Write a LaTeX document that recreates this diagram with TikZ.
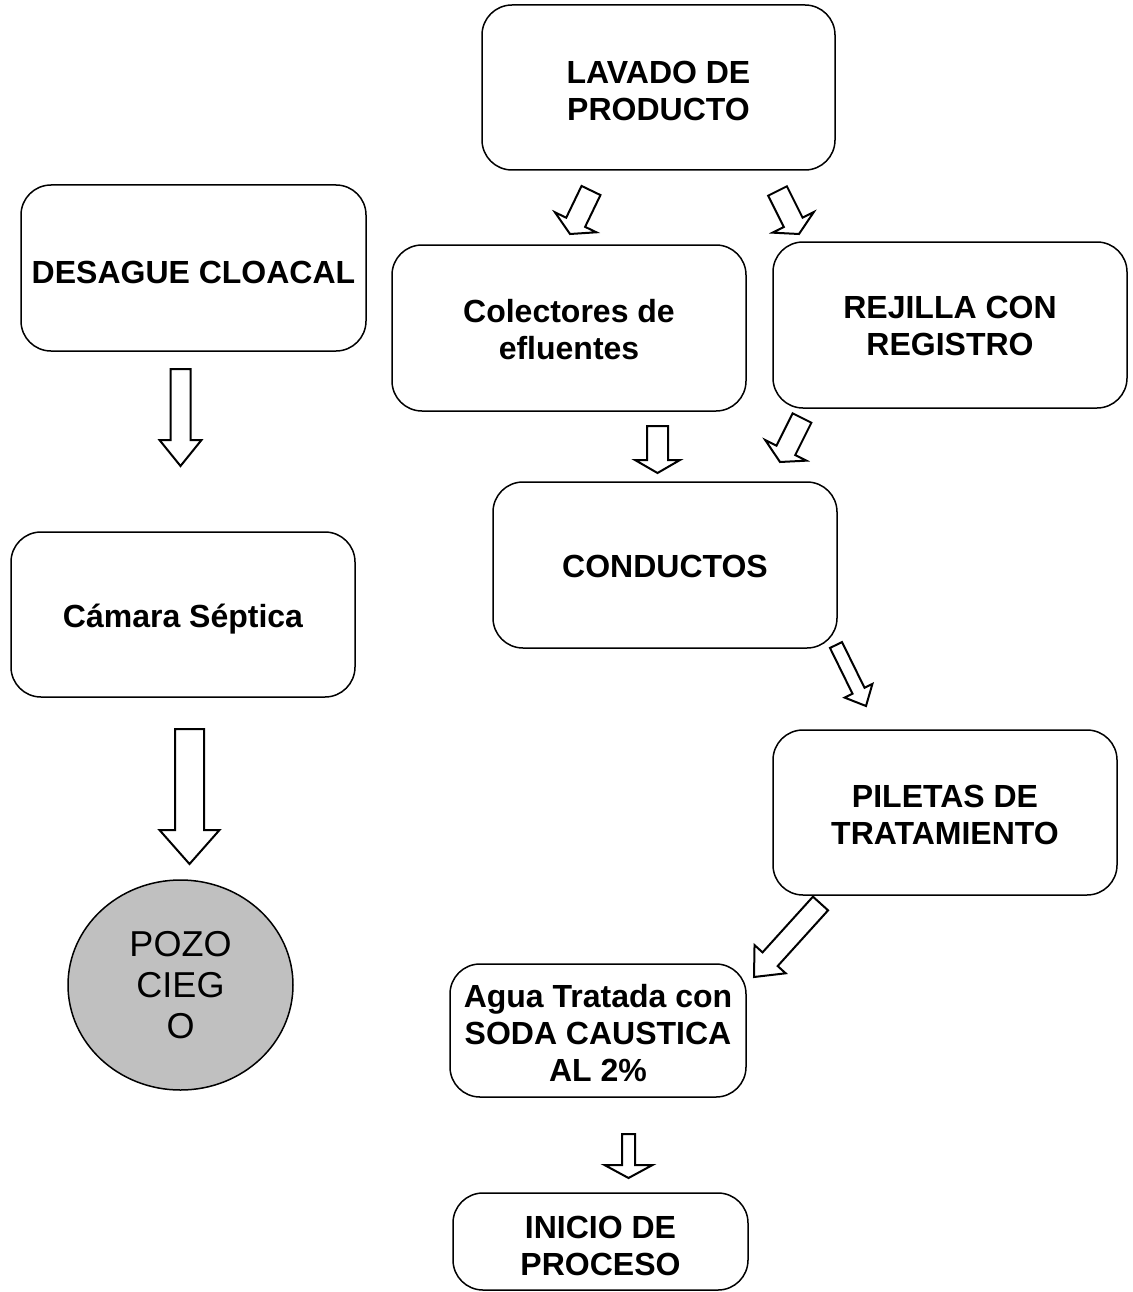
\documentclass[tikz,border=0pt]{standalone}
\usepackage{fontspec}
\setmainfont{Liberation Sans}
\usetikzlibrary{calc,shapes.geometric}
\definecolor{pozogray}{HTML}{C0C0C0}
\tikzset{
  box/.style={draw, line width=1.5pt, rounded corners=30pt, inner sep=0pt},
  boxtext/.style={inner sep=0pt, align=center, font=\fontsize{32}{37}\selectfont\bfseries},
  pozo/.style={draw, ellipse, line width=1.5pt, fill=pozogray, inner sep=0pt, align=center,
    font=\fontsize{36}{41}\selectfont},
  barrow/.style={draw, fill=white, line width=2pt, line join=miter}
}
% #1 name, #2 centre, #3 width, #4 height, #5 text drop, #6 text
\newcommand\boxnode[6]{%
  \node[box, minimum width=#3, minimum height=#4] (#1) at (#2) {};
  \node[boxtext] (#1-t) at ([yshift=-#5]#1.center) {#6};
}
\newcommand\blockarr[5]{%
  \coordinate (bh) at ($(#2)!#5!(#1)$);
  \draw[barrow] ($(#1)!#3!90:(#2)$) -- ($(bh)!#3!90:(#2)$) -- ($(bh)!#4!90:(#2)$) -- (#2)
    -- ($(bh)!#4!-90:(#2)$) -- ($(bh)!#3!-90:(#2)$) -- ($(#1)!#3!-90:(#2)$) -- cycle;
}
\begin{document}
\begin{tikzpicture}[x=1pt,y=-1pt]
\useasboundingbox (0,0) rectangle (1132,1292);
\boxnode{lavado}{658.5,87.5}{353pt}{165pt}{3.5pt}{LAVADO DE\\PRODUCTO}
\boxnode{desague}{193.5,268}{345pt}{166pt}{4pt}{DESAGUE CLOACAL}
\boxnode{colect}{569,328}{354pt}{166pt}{2pt}{Colectores de\\efluentes}
\boxnode{rejilla}{950,325}{354pt}{166pt}{1pt}{REJILLA CON\\REGISTRO}
\boxnode{conductos}{665,565}{344pt}{166pt}{1pt}{CONDUCTOS}
\boxnode{camara}{183,614.5}{344pt}{165pt}{5pt}{Cámara Séptica}
\boxnode{piletas}{945,812.5}{344pt}{165pt}{2.5pt}{PILETAS DE\\TRATAMIENTO}
\boxnode{agua}{598,1030.5}{296pt}{133pt}{2.5pt}{Agua Tratada con\\SODA CAUSTICA\\AL 2\%}
\boxnode{inicio}{600.5,1241.5}{295pt}{97pt}{4.5pt}{INICIO DE\\PROCESO}
\node[pozo, minimum width=225pt, minimum height=210pt] (pozoc) at (180.5,985) {POZO\\CIEG\\O};
% arrow end points
\coordinate (a1s) at (180.5,369);  \coordinate (a1e) at (180.5,466);
\coordinate (a2s) at (189.5,729);  \coordinate (a2e) at (189.5,864);
\coordinate (a3s) at (657.5,426);  \coordinate (a3e) at (657.5,473);
\coordinate (a4s) at (591,190.5);  \coordinate (a4e) at (570,234);
\coordinate (a5s) at (777.5,191);  \coordinate (a5e) at (799,234);
\coordinate (a6s) at (802,418);    \coordinate (a6e) at (780,462);
\coordinate (a7s) at (836,645);    \coordinate (a7e) at (866,706);
\coordinate (a8s) at (820.5,903.5);\coordinate (a8e) at (754,977);
\coordinate (a9s) at (628.5,1134); \coordinate (a9e) at (628.5,1178);
\blockarr{a1s}{a1e}{10pt}{21pt}{26pt}
\blockarr{a2s}{a2e}{14.5pt}{30pt}{34pt}
\blockarr{a3s}{a3e}{10.5pt}{22.5pt}{13pt}
\blockarr{a4s}{a4e}{10.5pt}{23pt}{13pt}
\blockarr{a5s}{a5e}{10.5pt}{23pt}{13pt}
\blockarr{a6s}{a6e}{10.5pt}{23pt}{13pt}
\blockarr{a7s}{a7e}{6.7pt}{15.5pt}{17pt}
\blockarr{a8s}{a8e}{10.2pt}{21pt}{24pt}
\blockarr{a9s}{a9e}{6.5pt}{24pt}{13pt}
\end{tikzpicture}
\end{document}
